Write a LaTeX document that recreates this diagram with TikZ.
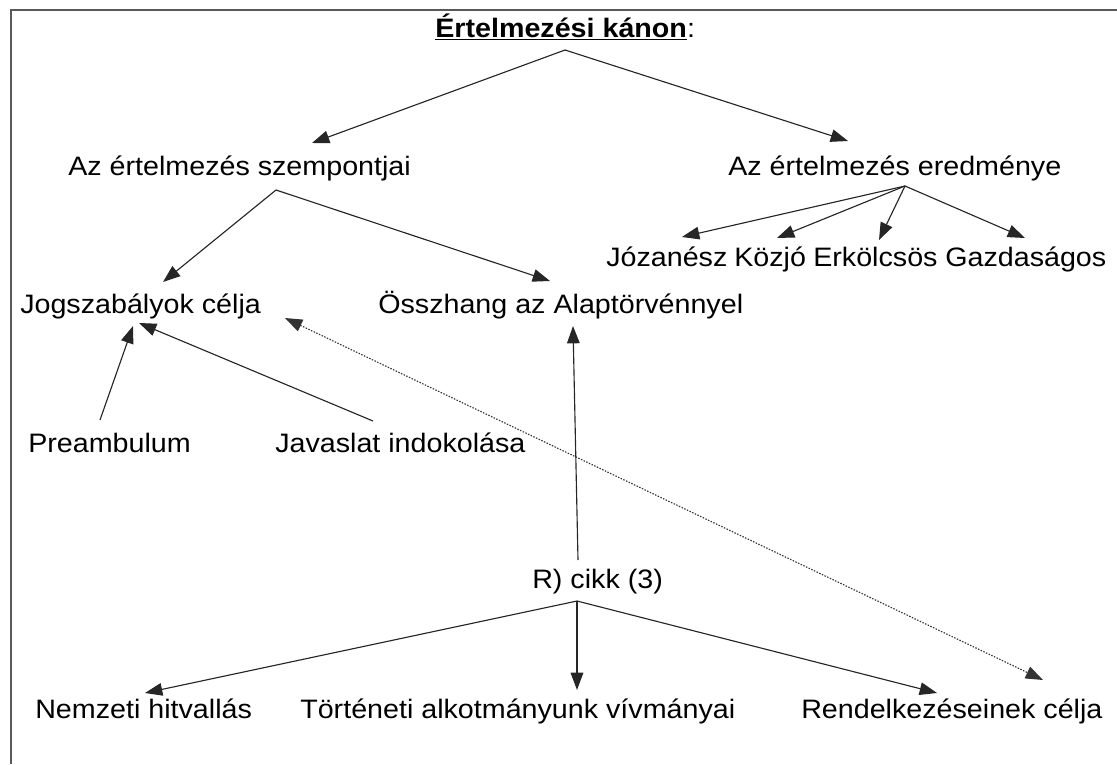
\documentclass[tikz,border=0pt]{standalone}
\usepackage{fontspec}
\setmainfont{Liberation Sans}
\usetikzlibrary{arrows.meta}
\tikzset{
  lbl/.style={font=\fontsize{20}{24}\selectfont, inner sep=0pt, anchor=base west, xscale=1.075, transform shape},
  arr/.style={draw=black!85, line width=0.85pt, -{Triangle[length=13pt,width=9.5pt]}},
  dotarr/.style={draw=black!80, line width=0.85pt, dash pattern=on 1.1pt off 1.1pt,
    {Triangle[length=13pt,width=9.5pt]}-{Triangle[length=13pt,width=9.5pt]}},
  frame/.style={draw=black!65, line width=1.5pt}
}
\begin{document}
\begin{tikzpicture}[x=0.75pt,y=-0.75pt]
\useasboundingbox (0,0) rectangle (1117,764);
\draw[frame] (10.5,764) -- (10.5,9.5) -- (1117,9.5);

\node[lbl] (title) at (435,37) {\textbf{\underline{Értelmezési kánon}}:};
\node[lbl] (szemp) at (68,175) {Az értelmezés szempontjai};
\node[lbl] (ered) at (728,175) {Az értelmezés eredménye};
\node[lbl] (jozan) at (606,266) {Józanész};
\node[lbl] (kozjo) at (734,266) {Közjó};
\node[lbl] (erkol) at (813,266) {Erkölcsös};
\node[lbl] (gazd) at (945,266) {Gazdaságos};
\node[lbl] (jog) at (20,313) {Jogszabályok célja};
\node[lbl] (ossz) at (378,313) {Összhang az Alaptörvénnyel};
\node[lbl] (pre) at (28,452) {Preambulum};
\node[lbl] (jav) at (275,452) {Javaslat indokolása};
\node[lbl] (rcikk) at (532,588) {R) cikk (3)};
\node[lbl] (nem) at (35,718) {Nemzeti hitvallás};
\node[lbl] (tort) at (300,718) {Történeti alkotmányunk vívmányai};
\node[lbl] (rend) at (801,718) {Rendelkezéseinek célja};

\draw[arr] ([shift={(130,13)}]title.base west) -- ([shift={(244,-32)}]szemp.base west);
\draw[arr] ([shift={(130,13)}]title.base west) -- ([shift={(120,-34)}]ered.base west);

\draw[arr] ([shift={(208,15)}]szemp.base west) -- ([shift={(143,-31)}]jog.base west);
\draw[arr] ([shift={(208,15)}]szemp.base west) -- ([shift={(172,-32)}]ossz.base west);

\draw[arr] ([shift={(177,11)}]ered.base west) -- ([shift={(76,-29)}]jozan.base west);
\draw[arr] ([shift={(177,11)}]ered.base west) -- ([shift={(43,-28)}]kozjo.base west);
\draw[arr] ([shift={(177,11)}]ered.base west) -- ([shift={(66,-26)}]erkol.base west);
\draw[arr] ([shift={(177,11)}]ered.base west) -- ([shift={(80,-28)}]gazd.base west);

\draw[arr] ([shift={(72,-32)}]pre.base west) -- ([shift={(113,13)}]jog.base west);
\draw[arr] ([shift={(98,-31)}]jav.base west) -- ([shift={(119,10)}]jog.base west);

\draw[arr] ([shift={(46,-28)}]rcikk.base west) -- ([shift={(195,13)}]ossz.base west);

\draw[arr] ([shift={(45,13)}]rcikk.base west) -- ([shift={(110,-25)}]nem.base west);
\draw[arr] ([shift={(45,13)}]rcikk.base west) -- ([shift={(277,-28)}]tort.base west);
\draw[arr] ([shift={(45,13)}]rcikk.base west) -- ([shift={(136,-25)}]rend.base west);

\draw[dotarr] ([shift={(265,5)}]jog.base west) -- ([shift={(242,-38)}]rend.base west);
\end{tikzpicture}
\end{document}
